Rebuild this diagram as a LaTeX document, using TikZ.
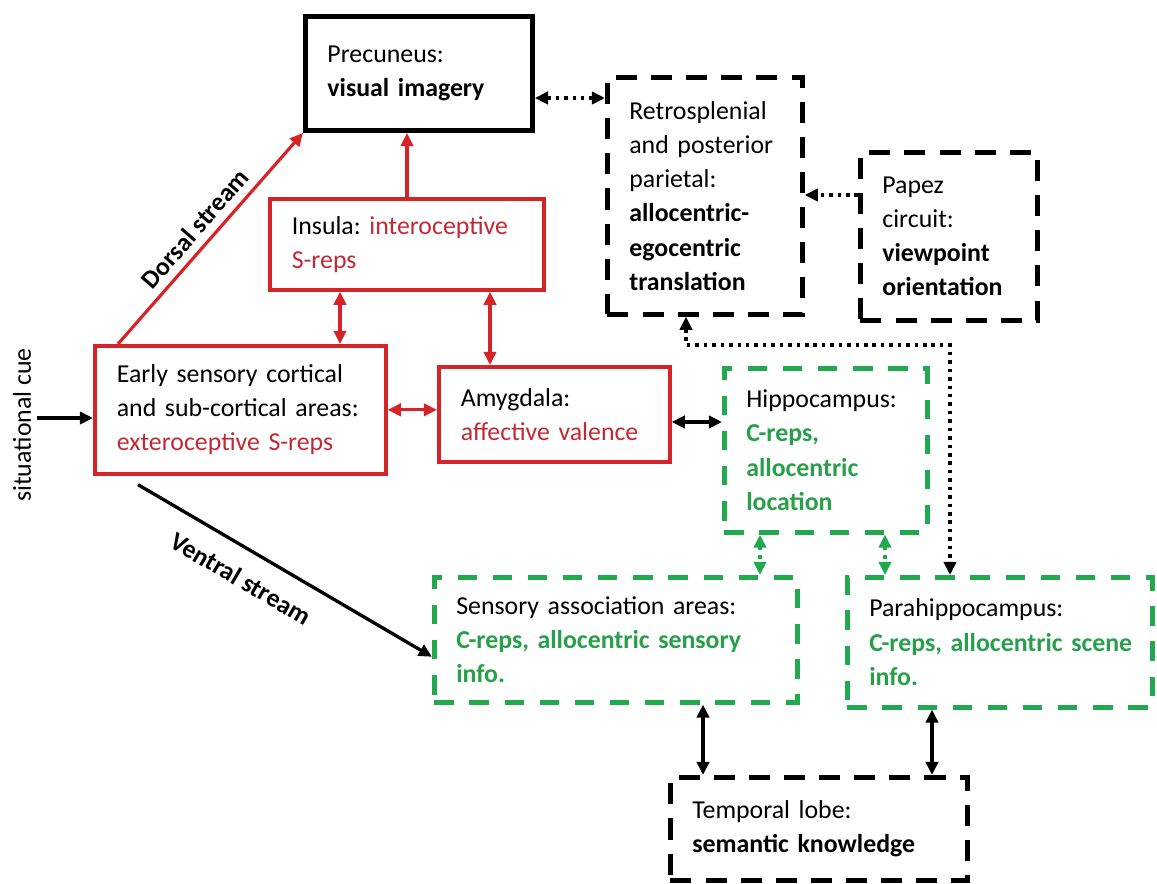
\documentclass[tikz,border=0pt]{standalone}
\usepackage{fontspec}
\setmainfont{Carlito}
\usetikzlibrary{arrows.meta}
\definecolor{redline}{RGB}{214,35,40}
\definecolor{redtext}{RGB}{196,40,50}
\definecolor{grnline}{RGB}{34,168,78}
\definecolor{grntext}{RGB}{40,160,75}
\tikzset{
  txt/.style={font=\fontsize{14.7}{19.5}\selectfont,
    execute at begin node={\frenchspacing\hyphenpenalty=10000\exhyphenpenalty=10000}},
  box/.style={txt,anchor=north west,align=left,inner xsep=0.44cm,inner ysep=0pt},
  solidblk/.style={box,draw,line width=2.8pt},
  dashblk/.style={box,draw,line width=2.7pt,dash pattern=on 12pt off 8pt},
  redbox/.style={box,draw=redline,line width=2.1pt},
  grnbox/.style={box,draw=grnline,line width=2.6pt,dash pattern=on 11pt off 9pt},
  onehead/.style={-{Triangle[length=7.5pt,width=7pt]}},
  twohead/.style={{Triangle[length=7.5pt,width=7pt]}-{Triangle[length=7.5pt,width=7pt]}},
  redln/.style={draw=redline,line width=1.8pt},
  blkln/.style={draw,line width=1.9pt},
  dotln/.style={draw,line width=2pt,dash pattern=on 2pt off 2.8pt},
  grndot/.style={draw=grnline,line width=2pt,dash pattern=on 2pt off 2.8pt}
}
\begin{document}
\begin{tikzpicture}[x=0.02cm,y=-0.02cm]
\useasboundingbox (0,0) rectangle (1157,883);
\node[solidblk,text width=3.66cm,minimum height=2.28cm] (prec) at (303,14) {Precuneus:\\\mbox{\textbf{visual imagery}}};
\node[dashblk,text width=3.02cm,minimum height=4.74cm] (retro) at (605,75) {Retrosplenial\\\mbox{and posterior}\\parietal:\\\textbf{allocentric-}\\\textbf{egocentric}\\\textbf{translation}};
\node[dashblk,text width=2.66cm,minimum height=3.36cm] (papez) at (858,150) {Papez\\circuit:\\\textbf{viewpoint}\\\textbf{orientation}};
\node[redbox,text width=4.6cm,minimum height=1.82cm] (insula) at (268,197) {\mbox{Insula: \textcolor{redtext}{interoceptive}}\\\textcolor{redtext}{S-reps}};
\node[redbox,text width=4.94cm,minimum height=2.56cm] (early) at (93,344) {\mbox{Early sensory cortical}\\\mbox{and sub-cortical areas:}\\\mbox{\textcolor{redtext}{exteroceptive S-reps}}};
\node[redbox,text width=3.74cm,minimum height=1.9cm] (amyg) at (437,365) {Amygdala:\\\mbox{\textcolor{redtext}{affective valence}}};
\node[grnbox,text width=3.18cm,minimum height=3.28cm] (hippo) at (722,366) {Hippocampus:\\\textcolor{grntext}{\textbf{C-reps,}}\\\textcolor{grntext}{\textbf{allocentric}}\\\textcolor{grntext}{\textbf{location}}};
\node[grnbox,text width=6.38cm,minimum height=2.5cm] (sens) at (432,575) {\mbox{Sensory association areas:}\\\mbox{\textcolor{grntext}{\textbf{C-reps, allocentric sensory}}}\\\textcolor{grntext}{\textbf{info.}}};
\node[grnbox,text width=5.22cm,minimum height=2.6cm] (para) at (845,575) {Parahippocampus:\\\mbox{\textcolor{grntext}{\textbf{C-reps, allocentric scene}}}\\\textcolor{grntext}{\textbf{info.}}};
\node[dashblk,text width=5.06cm,minimum height=2.06cm] (temp) at (668,775) {\mbox{Temporal lobe:}\\\mbox{\textbf{semantic knowledge}}};
\node[txt,rotate=90] (cue) at (22,425) {situational cue};
\draw[blkln,onehead] (cue.south |- 0,418) -- (early.west |- 0,418);
\draw[redln,onehead] ([xshift=0.5cm]early.north west) -- (prec.south west) node[txt,pos=0.49,above=1pt,sloped,black] {\textbf{Dorsal stream}};
\draw[blkln,onehead] ([xshift=0.9cm,yshift=-0.18cm]early.south west) -- ([yshift=-0.34cm]sens.west) node[txt,pos=0.4,below=7pt,sloped] {\textbf{Ventral stream}};
\draw[redln,onehead] (407,0 |- insula.north) -- (407,0 |- prec.south);
\draw[redln,twohead] (340,0 |- insula.south) -- (340,0 |- early.north);
\draw[redln,twohead] (490,0 |- insula.south) -- (490,0 |- amyg.north);
\draw[redln,twohead] (early.east) -- (early.east -| amyg.west);
\draw[blkln,twohead] (amyg.east |- 0,422) -- (hippo.west |- 0,422);
\draw[dotln,twohead] (prec.east |- 0,98) -- (retro.west |- 0,98);
\draw[dotln,onehead] (papez.west |- 0,195) -- (retro.east |- 0,195);
\coordinate (elbowL) at (686,345);
\coordinate (elbowR) at (950,345);
\draw[dotln,twohead] (elbowL |- retro.south) -- (elbowL) -- (elbowR) -- (elbowR |- para.north);
\draw[grndot,twohead] (760,0 |- hippo.south) -- (760,0 |- sens.north);
\draw[grndot,twohead] (885,0 |- hippo.south) -- (885,0 |- para.north);
\draw[blkln,twohead] (703,0 |- sens.south) -- (703,0 |- temp.north);
\draw[blkln,twohead] (932,0 |- para.south) -- (932,0 |- temp.north);
\end{tikzpicture}
\end{document}
